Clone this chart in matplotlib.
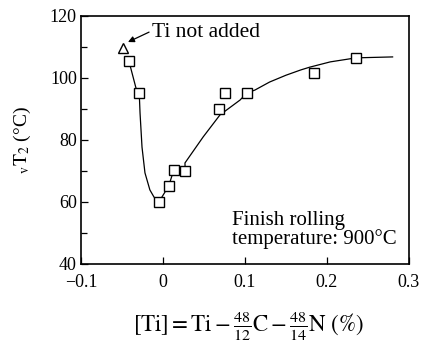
import numpy as np
import matplotlib.pyplot as plt

plt.rcParams['font.family'] = ['Liberation Serif', 'DejaVu Serif']
plt.rcParams['mathtext.fontset'] = 'stix'

# measured points
ti_x = [-0.0415, -0.029, -0.005, 0.007, 0.013, 0.027, 0.068, 0.0755, 0.1024, 0.1845, 0.2355]
vt_y = [105.4, 95.3, 60, 65.2, 70.2, 70.1, 90.1, 95.3, 95.2, 101.6, 106.5]

# Ti not added
no_ti_x = [-0.0488]
no_ti_y = [109.8]

# hand-drawn trend line
curve_x = [-0.0415, -0.033, -0.029, -0.028, -0.0256, -0.022, -0.016, -0.011, -0.005,
           0.007, 0.013, 0.027, 0.0268, 0.049, 0.0695, 0.094, 0.1024, 0.112, 0.130,
           0.150, 0.168, 0.179, 0.204, 0.2355, 0.280]
curve_y = [105.4, 96.8, 95.3, 88.7, 77.7, 69.4, 63.9, 61.6, 60,
           65.2, 70.2, 70.1, 72.6, 81, 88.1, 92.9, 95.2, 96.1, 98.7,
           100.9, 102.6, 103.5, 105.2, 106.5, 106.8]

fig = plt.figure(figsize=(4.24, 3.45), dpi=100)
ax = fig.add_axes([81/424, 1 - 264/345, 328/424, 248/345])

ax.plot(curve_x, curve_y, color='black', lw=0.9, zorder=2)
ax.plot(ti_x, vt_y, 's', ms=7, mfc='white', mec='black', mew=1.0, zorder=3)
ax.plot(no_ti_x, no_ti_y, '^', ms=7.5, mfc='white', mec='black', mew=1.0, zorder=3)

ax.annotate('', xy=(-0.0427, 111.6), xytext=(-0.017, 114.8),
            arrowprops=dict(arrowstyle='-|>', color='black', lw=0.9,
                            mutation_scale=9, shrinkA=0, shrinkB=0))
ax.text(-0.0134, 114.8, 'Ti not added', fontsize=15.5, va='center', ha='left')

ax.text(0.0845, 51, 'Finish rolling\ntemperature: 900°C', fontsize=15,
        ha='left', va='center', linespacing=0.9)

ax.set_xlim(-0.1, 0.3)
ax.set_ylim(40, 120)
ax.set_xticks([-0.1, 0, 0.1, 0.2, 0.3])
ax.set_xticklabels(['\u22120.1', '0', '0.1', '0.2', '0.3'])
ax.set_yticks([40, 60, 80, 100, 120])
ax.set_yticks([50, 70, 90, 110], minor=True)
ax.tick_params(direction='in', labelsize=13, length=5, width=0.9, pad=3)
ax.tick_params(axis='x', pad=7)
ax.tick_params(which='minor', direction='in', length=4, width=0.9)
for s in ax.spines.values():
    s.set_linewidth(1.2)

ax.set_ylabel(r'$_{\mathrm{v}}\mathrm{T}_{2}$ (°C)', fontsize=14, labelpad=12)
fig.text(248/424, 2/345,
         r'$[\mathrm{Ti}]=\mathrm{Ti}-\frac{48}{12}\mathrm{C}-\frac{48}{14}\mathrm{N}\ (\%)$',
         fontsize=16.5, ha='center', va='bottom')

fig.savefig('out.png', dpi=100)
